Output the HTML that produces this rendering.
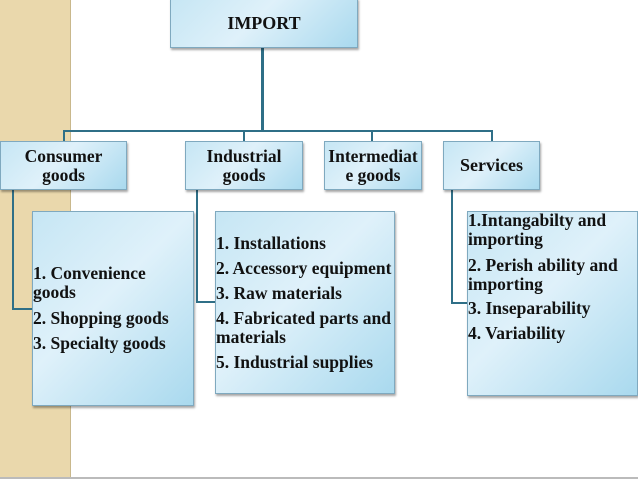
<!DOCTYPE html>
<html><head><style>
body{margin:0;width:638px;height:479px;position:relative;overflow:hidden;background:#fff;font-family:"Liberation Serif",serif;font-weight:bold;color:#111}
.b{position:absolute;box-sizing:border-box;border:1px solid #7fa9bf;background:linear-gradient(135deg,#c6e6f4 0%,#dff1fa 45%,#a9d9ee 100%);box-shadow:1px 2px 2px rgba(0,0,0,.35)}
.c{display:flex;align-items:center;justify-content:center;text-align:center;font-size:17.5px;line-height:19px}
.l{position:absolute;background:#2f6f87}
.t{position:absolute;font-size:17.5px;line-height:19px;white-space:nowrap}
</style></head><body>
<div style="position:absolute;left:0;top:0;width:70px;height:479px;background:#ead8ac;border-right:1px solid #c9b88c"></div>
<div style="position:absolute;left:0;top:477px;width:638px;height:2px;background:#bbb"></div>

<div class="l" style="left:261px;top:48px;width:3px;height:84px"></div>
<div class="l" style="left:63px;top:130px;width:430px;height:2px"></div>
<div class="l" style="left:63px;top:130px;width:2px;height:11px"></div>
<div class="l" style="left:243px;top:130px;width:2px;height:11px"></div>
<div class="l" style="left:371px;top:130px;width:2px;height:11px"></div>
<div class="l" style="left:491px;top:130px;width:2px;height:11px"></div>

<div class="l" style="left:12px;top:190px;width:2px;height:119px"></div>
<div class="l" style="left:12px;top:308px;width:21px;height:2px"></div>
<div class="l" style="left:196px;top:190px;width:2px;height:112px"></div>
<div class="l" style="left:196px;top:301px;width:20px;height:2px"></div>
<div class="l" style="left:451px;top:190px;width:2px;height:113px"></div>
<div class="l" style="left:451px;top:302px;width:17px;height:2px"></div>

<div class="b c" style="left:170px;top:-2px;width:188px;height:50px;font-size:18px">IMPORT</div>
<div class="b c" style="left:0;top:141px;width:127px;height:49px">Consumer<br>goods</div>
<div class="b c" style="left:185px;top:141px;width:118px;height:49px">Industrial<br>goods</div>
<div class="b c" style="left:324px;top:141px;width:98px;height:49px">Intermediat<br>e goods</div>
<div class="b c" style="left:443px;top:141px;width:97px;height:49px;font-size:18px">Services</div>

<div class="b" style="left:32px;top:211px;width:162px;height:195px"></div>
<div class="t" style="left:33px;top:264px">1. Convenience<br>goods</div>
<div class="t" style="left:33px;top:309px">2. Shopping goods</div>
<div class="t" style="left:33px;top:334px">3. Specialty goods</div>

<div class="b" style="left:215px;top:211px;width:180px;height:183px"></div>
<div class="t" style="left:216px;top:234px">1. Installations</div>
<div class="t" style="left:216px;top:259px">2. Accessory equipment</div>
<div class="t" style="left:216px;top:284px">3. Raw materials</div>
<div class="t" style="left:216px;top:309px">4. Fabricated parts and<br>materials</div>
<div class="t" style="left:216px;top:353px">5. Industrial supplies</div>

<div class="b" style="left:467px;top:211px;width:171px;height:185px"></div>
<div class="t" style="left:468px;top:211px">1.Intangabilty and<br>importing</div>
<div class="t" style="left:468px;top:256px">2. Perish ability and<br>importing</div>
<div class="t" style="left:468px;top:299px">3. Inseparability</div>
<div class="t" style="left:468px;top:324px">4. Variability</div>
</body></html>
